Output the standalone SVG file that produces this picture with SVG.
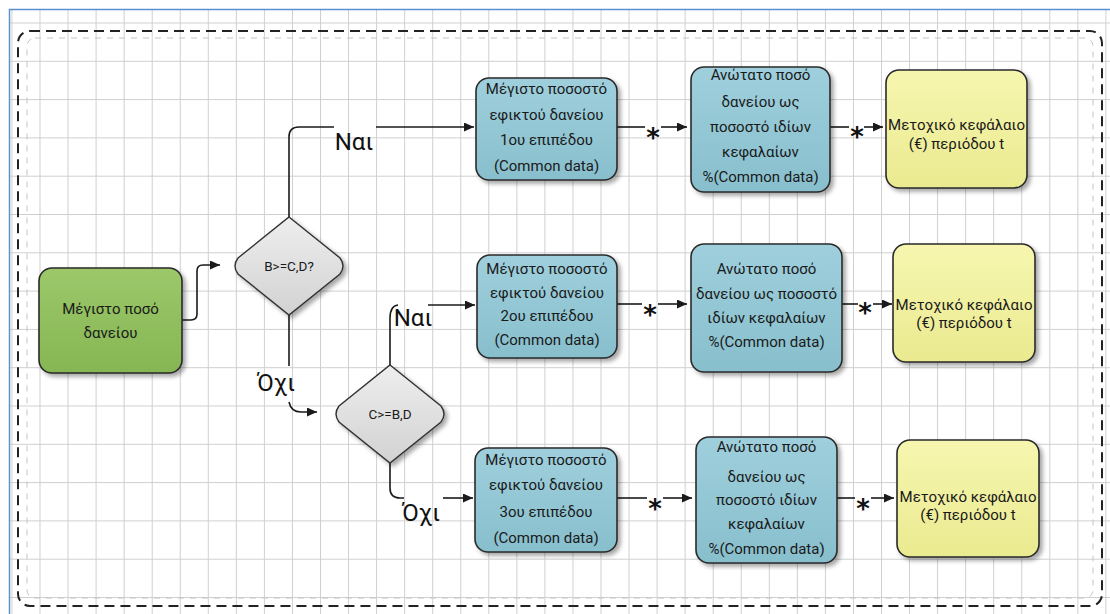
<svg xmlns="http://www.w3.org/2000/svg" width="1110" height="614" viewBox="0 0 1110 614">
  <defs>
    <pattern id="grid" patternUnits="userSpaceOnUse" x="39.5" y="22.5" width="28.05" height="38.3">
      <path d="M0,0.5 H28.05 M0.5,0 V38.3" fill="none" stroke="#cfcfcf" stroke-width="1"/>
    </pattern>
    <linearGradient id="gGreen" x1="0" y1="0" x2="0" y2="1">
      <stop offset="0" stop-color="#9cc86a"/>
      <stop offset="1" stop-color="#86b653"/>
    </linearGradient>
    <linearGradient id="gBlue" x1="0" y1="0" x2="0" y2="1">
      <stop offset="0" stop-color="#9fcfdc"/>
      <stop offset="1" stop-color="#88bfcd"/>
    </linearGradient>
    <linearGradient id="gYellow" x1="0" y1="0" x2="0" y2="1">
      <stop offset="0" stop-color="#f6f6b0"/>
      <stop offset="1" stop-color="#eaea90"/>
    </linearGradient>
    <linearGradient id="gGray" x1="0" y1="0" x2="0" y2="1">
      <stop offset="0" stop-color="#eeeeee"/>
      <stop offset="1" stop-color="#d2d2d2"/>
    </linearGradient>
    <filter id="shadow" x="-10%" y="-10%" width="130%" height="130%">
      <feDropShadow dx="3" dy="3" stdDeviation="2" flood-color="#000" flood-opacity="0.35"/>
    </filter>
    <marker id="arrow" markerUnits="userSpaceOnUse" markerWidth="10" markerHeight="9" refX="10" refY="4.5" orient="auto">
      <path d="M0,0 L10,4.5 L0,9 Z" fill="#1a1a1a"/>
    </marker>
    <style>
      .box { stroke: #2a2a2a; stroke-width: 1.6; filter: url(#shadow); }
      .green { fill: url(#gGreen); }
      .blue { fill: url(#gBlue); }
      .yellow { fill: url(#gYellow); }
      .dec { fill: url(#gGray); stroke: #333; stroke-width: 1.4; filter: url(#shadow); }
      .t { font-family: Roboto, "Noto Sans", sans-serif; font-size: 15px; fill: #1a1a1a; text-anchor: middle; }
      .td { font-family: Roboto, "Noto Sans", sans-serif; font-size: 13.5px; fill: #1a1a1a; text-anchor: middle; }
      .lbl { font-family: Roboto, "Noto Sans", sans-serif; font-size: 24px; fill: #111; text-anchor: middle; }
      .star { font-family: "DejaVu Sans", sans-serif; font-size: 26px; font-weight: bold; fill: #111; text-anchor: middle; }
      .ln { fill: none; stroke: #1a1a1a; stroke-width: 1.6; }
      .arr { marker-end: url(#arrow); }
    </style>
  </defs>

  <!-- page with drawing grid -->
  <rect x="0" y="0" width="1110" height="614" fill="#ffffff"/>
  <rect x="10" y="10" width="1100" height="604" fill="url(#grid)"/>
  <path d="M9.5,614 V9.5 H1110" fill="none" stroke="#5b8fd0" stroke-width="1.5"/>

  <!-- container frame -->
  <rect x="27" y="38" width="1066" height="560" rx="8" fill="none" stroke="#c4c4c4" stroke-width="1" stroke-dasharray="6 6"/>
  <rect x="18" y="31" width="1084" height="575" rx="12" fill="none" stroke="#222" stroke-width="2" stroke-dasharray="10 6"/>

  <!-- connectors -->
  <g id="connectors">
    <path class="ln arr" d="M182,320 H191 Q197,320 197,314 V271 Q197,265 203,265 H220"/>
    <path class="ln" d="M289,217 V137 Q289,127 299,127 H334"/>
    <path class="ln arr" d="M376,127 H474"/>
    <path class="ln" d="M289,315 V366"/>
    <path class="ln arr" d="M289,402 Q291,412 301,412 H317"/>
    <path class="ln" d="M390,365 V318 Q390,306 398,305"/>
    <path class="ln arr" d="M428,305 H475"/>
    <path class="ln" d="M390,463 V488 Q390,498 400,498 H404"/>
    <path class="ln arr" d="M443,498 H473"/>

    <path class="ln" d="M617,127 H645"/>
    <path class="ln arr" d="M661,127 H687"/>
    <path class="ln" d="M830,127 H849"/>
    <path class="ln arr" d="M864,127 H883"/>

    <path class="ln" d="M617,304 H642"/>
    <path class="ln arr" d="M658,304 H687"/>
    <path class="ln" d="M842,304 H858"/>
    <path class="ln arr" d="M873,304 H892"/>

    <path class="ln" d="M617,498 H647"/>
    <path class="ln arr" d="M663,498 H692"/>
    <path class="ln" d="M837,498 H855"/>
    <path class="ln arr" d="M871,498 H894"/>

    <text class="lbl" x="354" y="150">Ναι</text>
    <text class="lbl" x="276" y="391">Όχι</text>
    <text class="lbl" x="413" y="326">Ναι</text>
    <text class="lbl" x="421" y="521">Όχι</text>

    <text class="star" x="653" y="147">*</text>
    <text class="star" x="857" y="146">*</text>
    <text class="star" x="650" y="324">*</text>
    <text class="star" x="865" y="322">*</text>
    <text class="star" x="655" y="518">*</text>
    <text class="star" x="863" y="518">*</text>
  </g>

  <!-- start -->
  <g id="start">
    <rect class="box green" x="39" y="268" width="143" height="105" rx="13"/>
    <text class="t" x="110.5" y="314">Μέγιστο ποσό</text>
    <text class="t" x="110.5" y="338">δανείου</text>
  </g>

  <!-- decisions -->
  <g id="decision1">
    <path class="dec" d="M289,217 L340,258 Q346,266 340,274 L289,315 L238,274 Q232,266 238,258 Z"/>
    <text class="td" x="289" y="271">B&gt;=C,D?</text>
  </g>
  <g id="decision2">
    <path class="dec" d="M390,365 L441,406 Q447,414 441,422 L390,463 L339,422 Q333,414 339,406 Z"/>
    <text class="td" x="390" y="419">C&gt;=B,D</text>
  </g>

  <!-- row 1 -->
  <g id="level1">
    <rect class="box blue" x="476" y="78" width="141" height="102" rx="13"/>
    <text class="t" x="546.5" y="94">Μέγιστο ποσοστό</text>
    <text class="t" x="546.5" y="120">εφικτού δανείου</text>
    <text class="t" x="546.5" y="145">1ου επιπέδου</text>
    <text class="t" x="546.5" y="171">(Common data)</text>
  </g>
  <g id="cap1">
    <rect class="box blue" x="691" y="67" width="139" height="125" rx="13"/>
    <text class="t" x="760.5" y="80">Ανώτατο ποσό</text>
    <text class="t" x="760.5" y="107">δανείου ως</text>
    <text class="t" x="760.5" y="132">ποσοστό ιδίων</text>
    <text class="t" x="760.5" y="157">κεφαλαίων</text>
    <text class="t" x="760.5" y="182">%(Common data)</text>
  </g>
  <g id="equity1">
    <rect class="box yellow" x="886" y="70" width="141" height="118" rx="13"/>
    <text class="t" x="956.5" y="130">Μετοχικό κεφάλαιο</text>
    <text class="t" x="956.5" y="149">(€) περιόδου t</text>
  </g>

  <!-- row 2 -->
  <g id="level2">
    <rect class="box blue" x="477" y="255" width="140" height="103" rx="13"/>
    <text class="t" x="547" y="274">Μέγιστο ποσοστό</text>
    <text class="t" x="547" y="298">εφικτού δανείου</text>
    <text class="t" x="547" y="321">2ου επιπέδου</text>
    <text class="t" x="547" y="345">(Common data)</text>
  </g>
  <g id="cap2">
    <rect class="box blue" x="691" y="244" width="151" height="128" rx="13"/>
    <text class="t" x="766.5" y="274">Ανώτατο ποσό</text>
    <text class="t" x="766.5" y="299">δανείου ως ποσοστό</text>
    <text class="t" x="766.5" y="323">ιδίων κεφαλαίων</text>
    <text class="t" x="766.5" y="347">%(Common data)</text>
  </g>
  <g id="equity2">
    <rect class="box yellow" x="893" y="244" width="142" height="118" rx="13"/>
    <text class="t" x="964" y="310">Μετοχικό κεφάλαιο</text>
    <text class="t" x="964" y="328">(€) περιόδου t</text>
  </g>

  <!-- row 3 -->
  <g id="level3">
    <rect class="box blue" x="475" y="448" width="142" height="104" rx="13"/>
    <text class="t" x="546" y="465">Μέγιστο ποσοστό</text>
    <text class="t" x="546" y="490">εφικτού δανείου</text>
    <text class="t" x="546" y="517">3ου επιπέδου</text>
    <text class="t" x="546" y="543">(Common data)</text>
  </g>
  <g id="cap3">
    <rect class="box blue" x="696" y="437" width="141" height="126" rx="13"/>
    <text class="t" x="766.5" y="452">Ανώτατο ποσό</text>
    <text class="t" x="766.5" y="482">δανείου ως</text>
    <text class="t" x="766.5" y="505">ποσοστό ιδίων</text>
    <text class="t" x="766.5" y="529">κεφαλαίων</text>
    <text class="t" x="766.5" y="554">%(Common data)</text>
  </g>
  <g id="equity3">
    <rect class="box yellow" x="897" y="440" width="142" height="117" rx="13"/>
    <text class="t" x="968" y="502">Μετοχικό κεφάλαιο</text>
    <text class="t" x="968" y="520">(€) περιόδου t</text>
  </g>
</svg>
